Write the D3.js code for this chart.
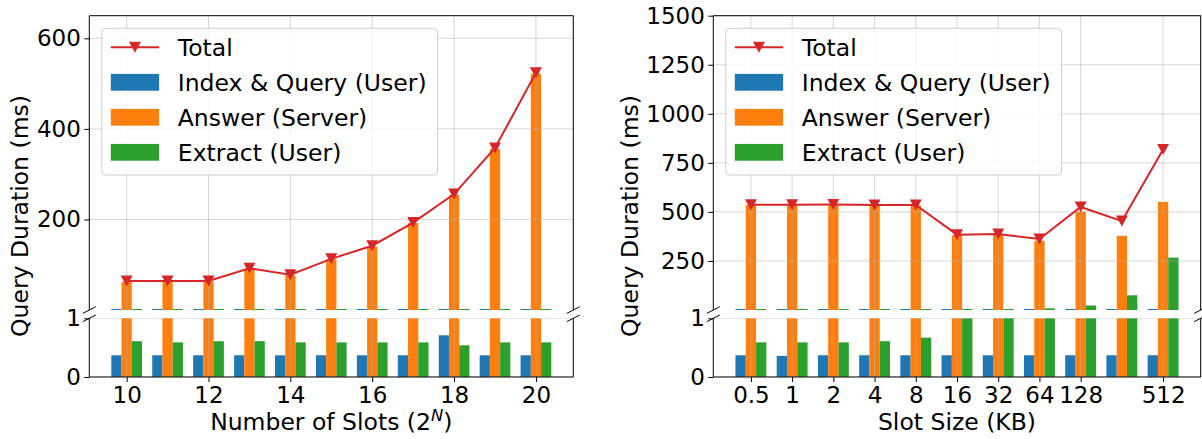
<!DOCTYPE html>
<html>
<head>
<meta charset="utf-8">
<script src="https://cdn.jsdelivr.net/npm/d3@7/dist/d3.min.js"></script>
<style>
  html, body { margin: 0; padding: 0; background: #fff; }
  svg { display: block; font-family: "DejaVu Sans", sans-serif; }
</style>
</head>
<body>
<svg id="chart" width="1202" height="439"></svg>
<script>
// ---------------- data ----------------
const seriesNames = ["Total", "Index & Query (User)", "Answer (Server)", "Extract (User)"];

// Left panel: number of slots (2^N)
const slots = [10, 11, 12, 13, 14, 15, 16, 17, 18, 19, 20];
const slotsIndexQuery = [0.37, 0.37, 0.37, 0.37, 0.37, 0.37, 0.37, 0.37, 0.71, 0.37, 0.37];
const slotsAnswer = [62.5, 62.5, 62.5, 90, 77, 112, 140, 192, 254, 356, 522];
const slotsExtract = [0.61, 0.59, 0.61, 0.61, 0.59, 0.59, 0.59, 0.59, 0.54, 0.59, 0.59];
const slotsTotal = [64, 64, 64, 92, 78, 113, 142, 193, 256, 358, 524];
const slotsXTicks = [10, 12, 14, 16, 18, 20];
const slotsYTicks = [200, 400, 600];

// Right panel: slot size (KB)
const sizes = ["0.5", "1", "2", "4", "8", "16", "32", "64", "128", "256", "512"];
const sizesIndexQuery = [0.37, 0.36, 0.37, 0.37, 0.37, 0.37, 0.37, 0.37, 0.37, 0.37, 0.37];
const sizesAnswer = [535, 535, 535, 533, 533, 381, 383, 353, 501, 378, 551];
const sizesExtract = [0.59, 0.59, 0.59, 0.61, 0.67, 2, 2.5, 8.6, 23, 75, 267];
const sizesTotal = [537, 537, 538, 535, 535, 384, 387, 362, 525, 453, 818];
const sizesXTickLabels = ["0.5", "1", "2", "4", "8", "16", "32", "64", "128", "512"];
const sizesYTicks = [250, 500, 750, 1000, 1250, 1500];

const lowerYTicks = [0, 1];

// ---------------- layout / style ----------------
const colors = { total: "#d62728", idx: "#1f77b4", ans: "#ff7f0e", ext: "#2ca02c" };
const TOP = 15.7, UP_BOTTOM = 310, LOW_TOP = 318.3, LOW_BOTTOM = 377;
const BAR_W = 0.25;
const TICK_FONT = 23, LABEL_FONT = 23.5, LEGEND_FONT = 23.5;
const GRID = "#b0b0b0", GRID_OP = 0.5;

const svg = d3.select("#chart");

function drawPanel(p) {
  const g = svg.append("g");
  const xMinData = d3.min(p.pos) - 1.5 * BAR_W, xMaxData = d3.max(p.pos) + 1.5 * BAR_W;
  const margin = (xMaxData - xMinData) * 0.05;
  const x = d3.scaleLinear().domain([xMinData - margin, xMaxData + margin]).range([p.x0, p.x1]);
  const yU = d3.scaleLinear().domain([0, p.yMax]).range([UP_BOTTOM, TOP]);
  const yL = d3.scaleLinear().domain([0, 1]).range([LOW_BOTTOM, LOW_TOP]);

  const defs = svg.append("defs");
  defs.append("clipPath").attr("id", p.id + "-cu").append("rect")
    .attr("x", p.x0).attr("y", TOP).attr("width", p.x1 - p.x0).attr("height", UP_BOTTOM - TOP);
  defs.append("clipPath").attr("id", p.id + "-cl").append("rect")
    .attr("x", p.x0).attr("y", LOW_TOP).attr("width", p.x1 - p.x0).attr("height", LOW_BOTTOM - LOW_TOP);

  const bars = [
    { vals: p.idx, color: colors.idx, off: -1 },
    { vals: p.ans, color: colors.ans, off: 0 },
    { vals: p.ext, color: colors.ext, off: 1 }
  ];
  const bw = x(BAR_W) - x(0);

  const regions = [
    { y: yU, clip: p.id + "-cu", yTicks: p.yTicks, upper: true },
    { y: yL, clip: p.id + "-cl", yTicks: lowerYTicks, upper: false }
  ];

  regions.forEach(r => {
    const rg = g.append("g").attr("clip-path", `url(#${r.clip})`);
    bars.forEach(s => {
      rg.append("g").selectAll("rect").data(s.vals).enter().append("rect")
        .attr("x", (d, i) => x(p.pos[i] + s.off * BAR_W) - bw / 2)
        .attr("width", bw)
        .attr("y", d => r.y(0) - Math.max(r.upper ? 1 : 0, r.y(0) - r.y(d)))
        .attr("height", d => Math.max(r.upper ? 1 : 0, r.y(0) - r.y(d)))
        .attr("fill", s.color);
    });
    const gg = rg.append("g").attr("stroke", GRID).attr("stroke-opacity", GRID_OP).attr("stroke-width", 1);
    gg.selectAll("line.v").data(p.xTickPos).enter().append("line")
      .attr("x1", d => x(d)).attr("x2", d => x(d))
      .attr("y1", r.y.range()[0]).attr("y2", r.y.range()[1]);
    gg.selectAll("line.h").data(r.yTicks).enter().append("line")
      .attr("x1", p.x0).attr("x2", p.x1)
      .attr("y1", d => r.y(d)).attr("y2", d => r.y(d));
    const line = d3.line().x((d, i) => x(p.pos[i])).y(d => r.y(d));
    rg.append("path").datum(p.total).attr("d", line)
      .attr("fill", "none").attr("stroke", colors.total).attr("stroke-width", 2);
    rg.append("g").selectAll("path").data(p.total).enter().append("path")
      .attr("d", "M-6,-5.5L6,-5.5L0,5.5Z")
      .attr("transform", (d, i) => `translate(${x(p.pos[i])},${r.y(d)})`)
      .attr("fill", colors.total);
  });

  const yAxU = d3.axisLeft(yU).tickValues(p.yTicks).tickFormat(d3.format("d")).tickSize(5).tickPadding(3.5);
  const yAxL = d3.axisLeft(yL).tickValues(lowerYTicks).tickFormat(d3.format("d")).tickSize(5).tickPadding(3.5);
  const xAx = d3.axisBottom(x).tickValues(p.xTickPos).tickFormat((d, i) => p.xTickLabels[i]).tickSize(5).tickPadding(4.5);

  const styleAxis = sel => {
    sel.select(".domain").remove();
    sel.selectAll("text").attr("font-size", TICK_FONT).attr("fill", "#000")
      .attr("font-family", "DejaVu Sans");
    sel.selectAll("line").attr("stroke", "#000");
  };
  const gyU = g.append("g").attr("transform", `translate(${p.x0},0)`).call(yAxU).call(styleAxis);
  g.append("g").attr("transform", `translate(${p.x0},0)`).call(yAxL).call(styleAxis);
  g.append("g").attr("transform", `translate(0,${LOW_BOTTOM})`).call(xAx).call(styleAxis);

  const sp = g.append("g").attr("stroke", "#000").attr("stroke-width", 1).attr("fill", "none");
  sp.append("path").attr("d", `M${p.x0},${UP_BOTTOM}V${TOP}H${p.x1}V${UP_BOTTOM}`);
  sp.append("path").attr("d", `M${p.x0},${LOW_TOP}V${LOW_BOTTOM}H${p.x1}V${LOW_TOP}`);
  [p.x0, p.x1].forEach(xx => {
    sp.append("line").attr("x1", xx - 6.5).attr("y1", UP_BOTTOM + 3.3).attr("x2", xx + 6.5).attr("y2", UP_BOTTOM - 3.3);
    sp.append("line").attr("x1", xx - 6.5).attr("y1", LOW_TOP + 3.3).attr("x2", xx + 6.5).attr("y2", LOW_TOP - 3.3);
  });

  const cx = (p.x0 + p.x1) / 2;
  const xl = g.append("text").attr("x", cx).attr("y", 430).attr("text-anchor", "middle")
    .attr("font-size", LABEL_FONT).attr("fill", "#000");
  if (p.xLabelSup) {
    xl.append("tspan").text(p.xLabel);
    xl.append("tspan").attr("dy", -9).attr("font-size", LABEL_FONT * 0.7).attr("font-style", "italic").text(p.xLabelSup);
    xl.append("tspan").attr("dy", 9).text(")");
  } else {
    xl.text(p.xLabel);
  }
  const bb = gyU.node().getBBox();
  const lx = p.x0 + bb.x - 8.5;
  g.append("text").attr("transform", `translate(${lx},216) rotate(-90)`)
    .attr("text-anchor", "middle").attr("font-size", LABEL_FONT).attr("fill", "#000")
    .text("Query Duration (ms)");

  const lg = g.append("g");
  const bx = p.x0 + 12.5, by = TOP + 12.6;
  const box = lg.append("rect").attr("x", bx).attr("y", by).attr("rx", 4).attr("ry", 4)
    .attr("fill", "rgba(255,255,255,0.8)").attr("stroke", "#cccccc").attr("stroke-width", 1);
  const rowY = [47.3, 82.3, 117.3, 152.3];
  const hx0 = bx + 9, hx1 = bx + 57.3, tx = bx + 76;
  lg.append("line").attr("x1", hx0).attr("x2", hx1).attr("y1", rowY[0]).attr("y2", rowY[0])
    .attr("stroke", colors.total).attr("stroke-width", 2);
  lg.append("path").attr("d", "M-6,-5.5L6,-5.5L0,5.5Z")
    .attr("transform", `translate(${(hx0 + hx1) / 2},${rowY[0]})`).attr("fill", colors.total);
  [colors.idx, colors.ans, colors.ext].forEach((c, i) => {
    lg.append("rect").attr("x", hx0).attr("y", rowY[i + 1] - 8.4).attr("width", hx1 - hx0).attr("height", 16.8).attr("fill", c);
  });
  let maxW = 0;
  seriesNames.forEach((nm, i) => {
    const t = lg.append("text").attr("x", tx).attr("y", rowY[i] + 8.2)
      .attr("font-size", LEGEND_FONT).attr("fill", "#000").text(nm);
    maxW = Math.max(maxW, t.node().getComputedTextLength());
  });
  box.attr("width", tx - bx + maxW + 11).attr("height", 175 - by);
}

drawPanel({
  id: "left", x0: 89.3, x1: 573.3, yMax: 650,
  pos: slots, idx: slotsIndexQuery, ans: slotsAnswer, ext: slotsExtract, total: slotsTotal,
  xTickPos: slotsXTicks, xTickLabels: slotsXTicks.map(String), yTicks: slotsYTicks,
  xLabel: "Number of Slots (2", xLabelSup: "N"
});

drawPanel({
  id: "right", x0: 713.3, x1: 1200.7, yMax: 1500,
  pos: sizes.map((s, i) => i), idx: sizesIndexQuery, ans: sizesAnswer, ext: sizesExtract, total: sizesTotal,
  xTickPos: sizesXTickLabels.map(l => sizes.indexOf(l)), xTickLabels: sizesXTickLabels, yTicks: sizesYTicks,
  xLabel: "Slot Size (KB)"
});
</script>
</body>
</html>
